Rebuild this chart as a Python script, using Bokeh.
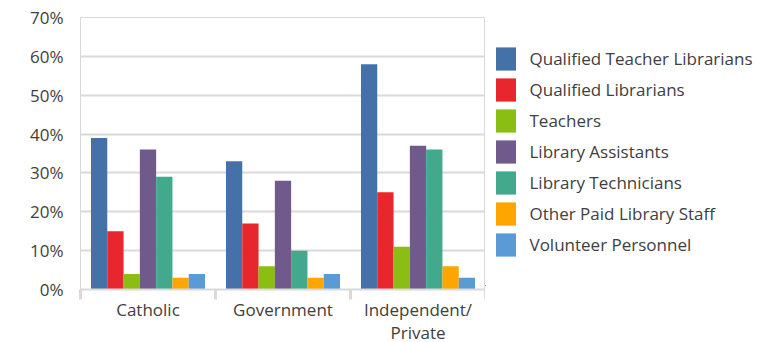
from bokeh.plotting import figure
from bokeh.layouts import row
from bokeh.models import (ColumnDataSource, Range1d, FixedTicker, NumeralTickFormatter,
                          Legend, LegendItem)
from bokeh.transform import dodge
from bokeh.embed import file_html
from bokeh.resources import INLINE

# School sectors and staffing categories (share of schools, %)
sectors = ["Catholic", "Government", "Independent/\nPrivate"]
staff_types = [
    "Qualified Teacher Librarians",
    "Qualified Librarians",
    "Teachers",
    "Library Assistants",
    "Library Technicians",
    "Other Paid Library Staff",
    "Volunteer Personnel",
]
qualified_teacher_librarians = [39, 33, 58]
qualified_librarians = [15, 17, 25]
teachers = [4, 6, 11]
library_assistants = [36, 28, 37]
library_technicians = [29, 10, 36]
other_paid_staff = [3, 3, 6]
volunteer_personnel = [4, 4, 3]

series = [qualified_teacher_librarians, qualified_librarians, teachers,
          library_assistants, library_technicians, other_paid_staff,
          volunteer_personnel]
colors = ["#4472A8", "#E8262E", "#8BBE13", "#705A8C", "#42A98C", "#FFA500", "#5B9BD5"]

FONT = "Open Sans"
SIZE = "17px"
TEXT = "#404040"
GRID = "#d9d9d9"

centers = [i + 0.5 for i in range(len(sectors))]
data = {"x": centers}
for name, vals in zip(staff_types, series):
    data[name] = [v / 100 for v in vals]
source = ColumnDataSource(data)

# --- bar chart -------------------------------------------------------------
p = figure(frame_width=405, frame_height=272, output_backend="svg",
           toolbar_location=None,
           x_range=Range1d(0, len(sectors)), y_range=Range1d(0, 0.7),
           min_border_left=80, min_border_right=0, min_border_top=17,
           min_border_bottom=53)
p.background_fill_color = "white"
p.border_fill_color = "white"
p.outline_line_color = GRID
p.outline_line_width = 1

bar_w = 0.1207
for i, (name, col) in enumerate(zip(staff_types, colors)):
    p.vbar(x=dodge("x", (i - 3) * bar_w, range=p.x_range), top=name,
           width=bar_w, bottom=0, source=source, fill_color=col,
           line_color=None)

# y axis
p.yaxis.ticker = FixedTicker(ticks=[i / 10 for i in range(8)])
p.yaxis.formatter = NumeralTickFormatter(format="0%")
p.yaxis.axis_line_color = None
p.yaxis.major_tick_line_color = None
p.yaxis.major_tick_out = 0
p.yaxis.minor_tick_line_color = None
p.yaxis.minor_tick_out = 0
p.yaxis.major_label_standoff = 17
p.yaxis.major_label_text_font = FONT
p.yaxis.major_label_text_font_size = SIZE
p.yaxis.major_label_text_color = TEXT

p.ygrid.grid_line_color = GRID
p.ygrid.grid_line_width = 2
p.xgrid.grid_line_color = None

# x axis: labels at sector centres, ticks on sector boundaries
p.xaxis.ticker = FixedTicker(ticks=centers,
                             minor_ticks=list(range(len(sectors) + 1)))
p.xaxis.major_label_overrides = {c: s for c, s in zip(centers, sectors)}
p.xaxis.major_tick_line_color = None
p.xaxis.major_tick_out = 0
p.xaxis.minor_tick_line_color = GRID
p.xaxis.minor_tick_line_width = 3
p.xaxis.minor_tick_out = 10
p.xaxis.minor_tick_in = 0
p.xaxis.axis_line_color = GRID
p.xaxis.axis_line_width = 2
p.xaxis.major_label_standoff = -2
p.xaxis.major_label_text_font = FONT
p.xaxis.major_label_text_font_size = SIZE
p.xaxis.major_label_text_line_height = 1.0
p.xaxis.major_label_text_color = TEXT

# --- legend panel ----------------------------------------------------------
# the swatch renderers share the data but sit outside this panel's view
lg = figure(width=286, height=342, output_backend="svg", toolbar_location=None,
            x_axis_type=None, y_axis_type=None,
            x_range=Range1d(100, 101), y_range=Range1d(100, 101),
            min_border_left=0, min_border_right=0, min_border_top=0,
            min_border_bottom=0)
lg.outline_line_color = None
lg.grid.grid_line_color = None
lg.border_fill_color = "white"
lg.background_fill_color = "white"

swatches = [lg.vbar(x="x", top=name, width=bar_w, source=source,
                    fill_color=col, line_color=None)
            for name, col in zip(staff_types, colors)]
legend = Legend(items=[LegendItem(label=n, renderers=[r])
                       for n, r in zip(staff_types, swatches)],
                location=(7.5, 26), margin=0, padding=0,
                glyph_width=25, glyph_height=29, label_standoff=12,
                spacing=2, label_height=29,
                label_text_font=FONT, label_text_font_size=SIZE,
                label_text_color=TEXT, border_line_color=None,
                background_fill_alpha=0)
lg.add_layout(legend, "center")

layout = row(p, lg)
open("out.html", "w").write(file_html(layout, INLINE))
